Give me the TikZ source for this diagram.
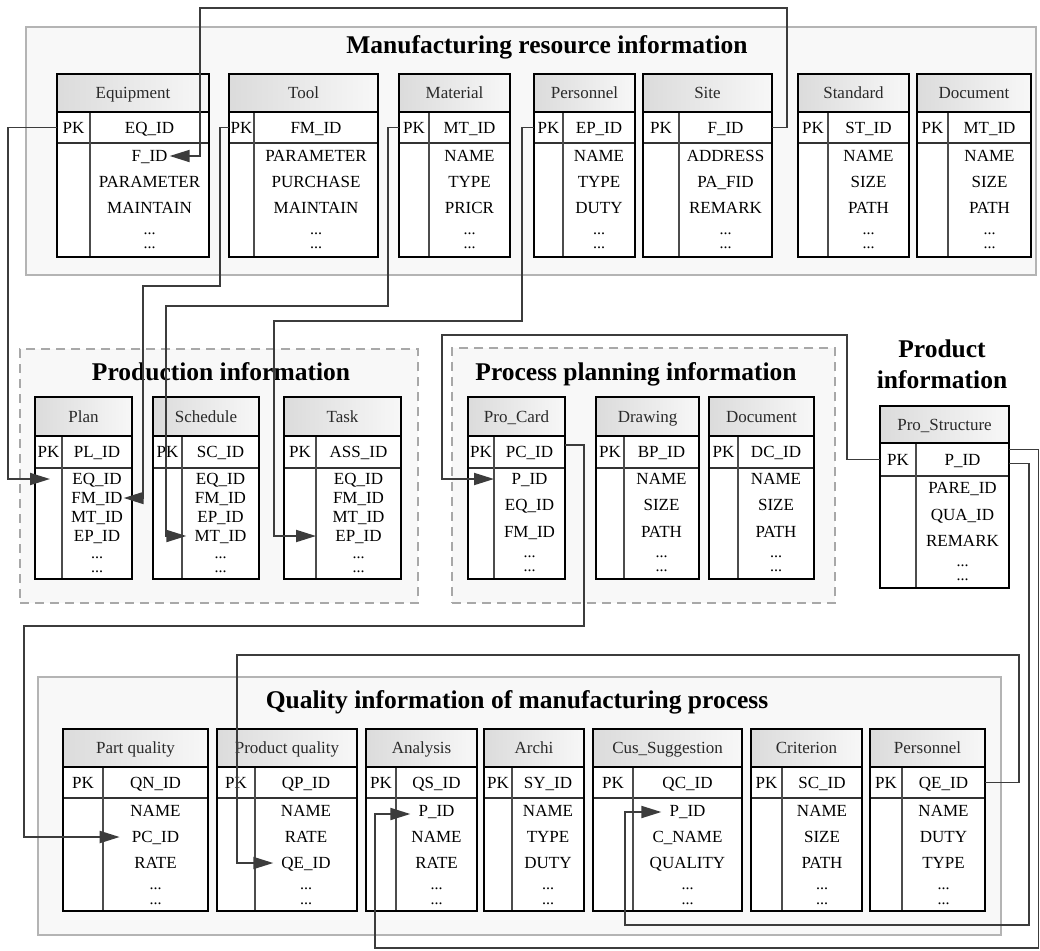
\documentclass[tikz,border=0pt]{standalone}
\usepackage{fontspec}
\setmainfont{Liberation Serif}
\usetikzlibrary{arrows.meta,calc}
\definecolor{conncol}{HTML}{3C3C3C}
\definecolor{boxfill}{HTML}{F8F8F8}
\definecolor{boxline}{HTML}{B4B4B4}
\definecolor{dashline}{HTML}{A8A8A8}
\definecolor{hdrtext}{HTML}{2A2A2A}
\tikzset{
 tframe/.style={draw=black, line width=2.6pt, inner sep=0pt, outer sep=0pt, rectangle},
 hdrfill/.style={left color=black!14, right color=black!3},
 hdrline/.style={line width=2.4pt, black},
 pkline/.style={line width=1.2pt, black!80},
 divline/.style={line width=1.1pt, black!70},
 ftext/.style={inner sep=0pt, font=\fontsize{17}{17}\selectfont, text height=11.2pt, text depth=0pt},
 htext/.style={ftext, text=hdrtext},
 dtext/.style={inner sep=0pt, font=\fontsize{16}{16}\selectfont, text height=2pt, text depth=0pt},
 ttext/.style={inner sep=0pt, anchor=base, font=\fontsize{25.5}{25.5}\selectfont\bfseries},
 solidbox/.style={draw=boxline, fill=boxfill, line width=1.2pt, inner sep=0pt, outer sep=0pt},
 dashbox/.style={draw=dashline, fill=boxfill, line width=1.5pt, dash pattern=on 9pt off 6pt, inner sep=0pt, outer sep=0pt},
 conn/.style={draw=conncol, line width=1.9pt, -{Triangle[length=20pt,width=12pt]}, line join=miter},
}
\newcommand{\bgbox}[6]{\node[#1, minimum width={(#5-#3)*1pt}, minimum height={(#6-#4)*1pt}] (#2) at ({(#3+#5)/2},{(#4+#6)/2}) {};}
\newcommand{\tablebox}[9]{%
  \fill[white] (#2,#5) rectangle (#4,#8);
  \shade[hdrfill] (#2,#5) rectangle (#4,#6);
  \draw[pkline] (#2,#7) -- (#4,#7);
  \draw[divline] (#3,#6) -- (#3,#8);
  \draw[hdrline] (#2,#6) -- (#4,#6);
  \node[tframe, minimum width={(#4-#2)*1pt}, minimum height={(#8-#5)*1pt}] (#1) at ({(#2+#4)/2},{(#5+#8)/2}) {};
  \coordinate (#1D) at (#3,#5);
  \node[htext] (#1H) at ({(#2+#4)/2},{(#5+#6)/2}) {#9};
  \node[ftext] (#1K) at ({(#2+#3)/2},{(#6+#7)/2}) {PK};
}
\newcommand{\tfields}[2]{\foreach \yy/\nm/\tx in {#2}{\node[ftext] (\nm) at (#1,\yy) {\tx};}}
\newcommand{\tdots}[4]{\node[dtext] (#1a) at (#2,#3) {...};\node[dtext] (#1b) at (#2,#4) {...};}
\begin{document}
\begin{tikzpicture}[x=1pt,y=-1pt]
\useasboundingbox (0,0) rectangle (1040,950);
\fill[white] (0,0) rectangle (1040,950);
% background groups
\bgbox{solidbox}{mfgBox}{26}{27}{1036}{275}
\bgbox{dashbox}{prodBox}{20}{349}{418}{603}
\bgbox{dashbox}{procBox}{452}{348}{835}{603}
\bgbox{solidbox}{qualBox}{38}{677}{1001}{935}
% titles
\node[ttext] (mfgT) at (547,53) {Manufacturing resource information};
\node[ttext] (prodT) at (221,380) {Production information};
\node[ttext] (procT) at (636,380) {Process planning information};
\node[ttext] (prdT1) at (942,357) {Product};
\node[ttext] (prdT2) at (942,388) {information};
\node[ttext] (qualT) at (517,708) {Quality information of manufacturing process};
% ---- top row
\tablebox{eq}{57}{90}{209}{74}{112}{143}{257}{Equipment}
\tfields{149.5}{127.5/eqI/EQ\_ID,156/eqF/F\_ID,182/eqP/PARAMETER,208/eqM/MAINTAIN}
\tdots{eqd}{149.5}{233}{247}
\tablebox{tool}{229}{254}{378}{74}{112}{143}{257}{Tool}
\tfields{316}{127.5/toolI/FM\_ID,156/toolP/PARAMETER,182/toolU/PURCHASE,208/toolM/MAINTAIN}
\tdots{toold}{316}{233}{247}
\tablebox{mat}{399}{429}{510}{74}{112}{143}{257}{Material}
\tfields{469.5}{127.5/matI/MT\_ID,156/matN/NAME,182/matT/TYPE,208/matP/PRICR}
\tdots{matd}{469.5}{233}{247}
\tablebox{pers}{534}{563}{635}{74}{112}{143}{257}{Personnel}
\tfields{599}{127.5/persI/EP\_ID,156/persN/NAME,182/persT/TYPE,208/persD/DUTY}
\tdots{persd}{599}{233}{247}
\tablebox{site}{643}{679}{772}{74}{112}{143}{257}{Site}
\tfields{725.5}{127.5/siteI/F\_ID,156/siteA/ADDRESS,182/siteP/PA\_FID,208/siteR/REMARK}
\tdots{sited}{725.5}{233}{247}
\tablebox{std}{798}{828}{909}{74}{112}{143}{257}{Standard}
\tfields{868.5}{127.5/stdI/ST\_ID,156/stdN/NAME,182/stdS/SIZE,208/stdP/PATH}
\tdots{stdd}{868.5}{233}{247}
\tablebox{doc}{917}{948}{1031}{74}{112}{143}{257}{Document}
\tfields{989.5}{127.5/docI/MT\_ID,156/docN/NAME,182/docS/SIZE,208/docP/PATH}
\tdots{docd}{989.5}{233}{247}
% ---- middle row
\tablebox{plan}{35}{62}{132}{397}{436}{468}{579}{Plan}
\tfields{97}{452/planI/PL\_ID,479/planEQ/EQ\_ID,498/planFM/FM\_ID,517/planMT/MT\_ID,536/planEP/EP\_ID}
\tdots{pland}{97}{557}{571}
\tablebox{sch}{153}{182}{259}{397}{436}{468}{579}{Schedule}
\tfields{220.5}{452/schI/SC\_ID,479/schEQ/EQ\_ID,498/schFM/FM\_ID,517/schEP/EP\_ID,536/schMT/MT\_ID}
\tdots{schd}{220.5}{557}{571}
\tablebox{task}{284}{316}{401}{397}{436}{468}{579}{Task}
\tfields{358.5}{452/taskI/ASS\_ID,479/taskEQ/EQ\_ID,498/taskFM/FM\_ID,517/taskMT/MT\_ID,536/taskEP/EP\_ID}
\tdots{taskd}{358.5}{557}{571}
\tablebox{pc}{468}{494}{565}{397}{436}{468}{579}{Pro\_Card}
\tfields{529.5}{452/pcI/PC\_ID,479/pcP/P\_ID,505/pcEQ/EQ\_ID,532/pcFM/FM\_ID}
\tdots{pcd}{529.5}{556}{570}
\tablebox{drw}{596}{624}{699}{397}{436}{468}{579}{Drawing}
\tfields{661.5}{452/drwI/BP\_ID,479/drwN/NAME,505/drwS/SIZE,532/drwP/PATH}
\tdots{drwd}{661.5}{556}{570}
\tablebox{pdoc}{709}{738}{814}{397}{436}{468}{579}{Document}
\tfields{776}{452/pdocI/DC\_ID,479/pdocN/NAME,505/pdocS/SIZE,532/pdocP/PATH}
\tdots{pdocd}{776}{556}{570}
\tablebox{ps}{880}{916}{1009}{406}{443}{476}{588}{Pro\_Structure}
\tfields{962.5}{459.5/psI/P\_ID,488/psA/PARE\_ID,515/psQ/QUA\_ID,541/psR/REMARK}
\tdots{psd}{962.5}{565}{579}
% ---- bottom row
\tablebox{pq}{63}{103}{208}{729}{767}{798}{911}{Part quality}
\tfields{155.5}{782.5/pqI/QN\_ID,811/pqN/NAME,837/pqPC/PC\_ID,863/pqR/RATE}
\tdots{pqd}{155.5}{888}{903}
\tablebox{pdq}{217}{255}{357}{729}{767}{798}{911}{Product quality}
\tfields{306}{782.5/pdqI/QP\_ID,811/pdqN/NAME,837/pdqR/RATE,863/pdqQE/QE\_ID}
\tdots{pdqd}{306}{888}{903}
\tablebox{an}{366}{396}{477}{729}{767}{798}{911}{Analysis}
\tfields{436.5}{782.5/anI/QS\_ID,811/anP/P\_ID,837/anN/NAME,863/anR/RATE}
\tdots{and}{436.5}{888}{903}
\tablebox{ar}{484}{512}{584}{729}{767}{798}{911}{Archi}
\tfields{548}{782.5/arI/SY\_ID,811/arN/NAME,837/arT/TYPE,863/arD/DUTY}
\tdots{ard}{548}{888}{903}
\tablebox{cs}{593}{633}{742}{729}{767}{798}{911}{Cus\_Suggestion}
\tfields{687.5}{782.5/csI/QC\_ID,811/csP/P\_ID,837/csN/C\_NAME,863/csQ/QUALITY}
\tdots{csd}{687.5}{888}{903}
\tablebox{cr}{751}{782}{862}{729}{767}{798}{911}{Criterion}
\tfields{822}{782.5/crI/SC\_ID,811/crN/NAME,837/crS/SIZE,863/crP/PATH}
\tdots{crd}{822}{888}{903}
\tablebox{bp}{870}{902}{985}{729}{767}{798}{911}{Personnel}
\tfields{943.5}{782.5/bpI/QE\_ID,811/bpN/NAME,837/bpD/DUTY,863/bpT/TYPE}
\tdots{bpd}{943.5}{888}{903}
% ---- connectors
\draw[conn] (site.east |- siteK) -| (787,8) -| (200,156) -- ($(eqF.east)+(2,0)$);
\draw[conn] (eq.west |- eqK) -| (8,479) -- ($(plan.west |- planEQ)+(15,0)$);
\draw[conn] (tool.west |- toolK) -| (220,286) -| (143,498) -- ($(planFM.east)+(1,0)$);
\draw[conn] (mat.west |- matK) -| (388,306) -| (166,536) -- ($(schMT.west)+(-8,0)$);
\draw[conn] (pers.west |- persK) -| (522,321) -| (274,536) -- (taskD |- taskEP);
\draw[conn] (ps.west |- psK) -| (847,335) -| (442,479) -- (pcD |- pcP);
\draw[conn] ($(pc.east |- pcK)+(0,-7)$) -| (584,626) -| (24,837) -- ($(pqPC.west)+(-12,0)$);
\draw[conn] (bp.east |- bpK) -| (1019,655) -| (237,863) -- ($(pdqQE.west)+(-8,0)$);
\draw[conn] ($(ps.east |- psK)+(0,4)$) -| (1029,925) -| (625,812) -- ($(csP.west)+(-8,1)$);
\draw[conn] ($(ps.east |- psK)+(0,-10)$) -| (1038.5,948) -| (375,814) -- ($(anP.west)+(-8,3)$);
\end{tikzpicture}
\end{document}
